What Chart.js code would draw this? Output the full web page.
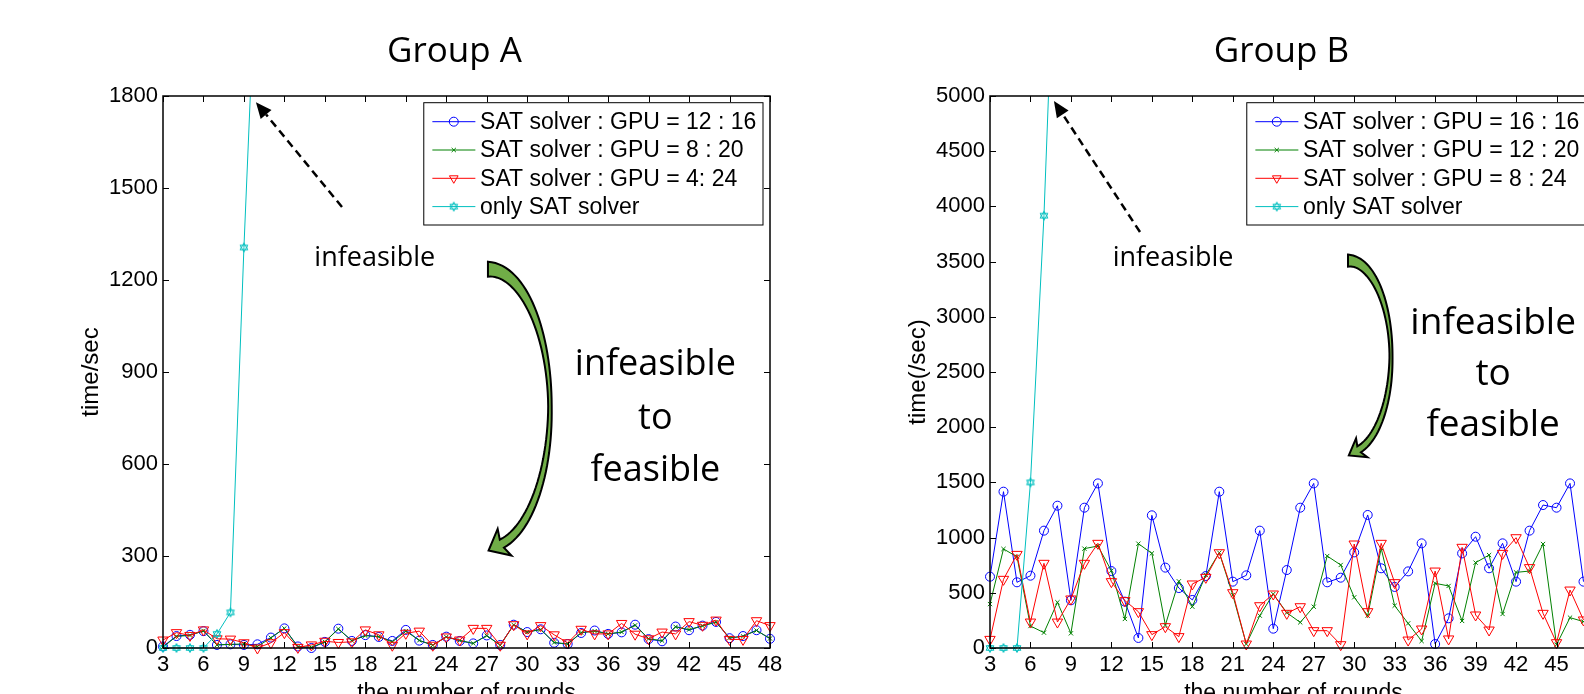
<!DOCTYPE html>
<html>
<head>
<meta charset="utf-8">
<script src="https://cdn.jsdelivr.net/npm/chart.js@4.4.1/dist/chart.umd.min.js"></script>
<style>
  html, body { margin: 0; padding: 0; background: #fff; overflow: hidden; }
  #wrap { position: relative; width: 1584px; height: 694px; overflow: hidden; }
  .box { position: absolute; top: 0; width: 800px; height: 694px; }
</style>
</head>
<body>
<div id="wrap">
  <div class="box" style="left:0"><canvas id="chartA"></canvas></div>
  <div class="box" style="left:840px"><canvas id="chartB"></canvas></div>
</div>
<script>
// rounds on the x axis
const rounds = [3,4,5,6,7,8,9,10,11,12,13,14,15,16,17,18,19,20,21,22,23,24,25,26,27,28,29,30,31,32,33,34,35,36,37,38,39,40,41,42,43,44,45,46,47,48];
const xTicksStep = 3;

// Group A
const labelsA = ['SAT solver : GPU = 12 : 16', 'SAT solver : GPU = 8 : 20', 'SAT solver : GPU = 4: 24', 'only SAT solver'];
const gpu12A = [5,39,43,55,10,12,10,12,34,64,5,0,20,63,23,42,36,23,59,24,10,37,23,15,41,10,76,52,61,17,13,49,57,46,51,76,29,22,70,58,73,85,32,39,58,30];
const gpu8A  = [3,38,41,56,10,12,13,5,33,64,4,2,20,62,24,40,37,20,55,25,9,36,25,15,40,9,75,52,60,18,13,50,55,46,52,74,30,24,69,60,72,84,33,38,57,31];
const gpu4A  = [26,50,41,59,30,29,17,0,17,50,2,10,22,18,20,59,43,9,48,55,9,36,26,64,64,9,76,46,73,43,17,61,46,46,80,45,30,52,46,86,74,91,28,28,89,73];
const onlyA  = [0,0,0,0,46,116,1306,2350];
const yMaxA = 1800, yStepA = 300;

// Group B
const labelsB = ['SAT solver : GPU = 16 : 16', 'SAT solver : GPU = 12 : 20', 'SAT solver : GPU = 8 : 24', 'only SAT solver'];
const gpu16B = [646,1416,595,655,1063,1289,432,1271,1491,697,420,91,1202,728,543,435,652,1416,601,658,1063,175,706,1271,1491,595,637,866,1205,722,553,694,948,36,269,857,1008,722,948,601,1063,1295,1271,1491,601];
const gpu12B = [398,897,827,199,139,414,133,900,924,700,263,945,857,208,604,374,661,863,480,36,293,489,320,232,374,833,752,459,293,903,383,223,63,586,562,245,773,842,308,685,697,942,30,275,239];
const gpu8B  = [78,622,848,235,767,235,444,767,948,601,429,329,121,193,103,580,640,863,501,36,383,489,314,374,157,157,30,942,329,948,592,72,172,697,82,912,299,163,857,999,728,314,48,525,254];
const onlyB  = [0,0,0,1500,3916,7150];
const yMaxB = 5000, yStepB = 500;

const SANS = '"Liberation Sans", Arial, sans-serif';
const CAL = '"Open Sans", sans-serif';

function hexagram(color, r) {
  const s = Math.ceil(r * 2 + 3);
  const c = document.createElement('canvas');
  c.width = c.height = s;
  const g = c.getContext('2d');
  g.strokeStyle = color;
  g.lineWidth = 1;
  for (let k = 0; k < 2; k++) {
    g.beginPath();
    for (let i = 0; i < 3; i++) {
      const a = -Math.PI / 2 + k * Math.PI + i * 2 * Math.PI / 3;
      const px = s / 2 + r * Math.cos(a), py = s / 2 + r * Math.sin(a);
      if (i) g.lineTo(px, py); else g.moveTo(px, py);
    }
    g.closePath();
    g.stroke();
  }
  return c;
}
const hexMark = hexagram('rgb(0,191,191)', 4.5);

function pts(vals) {
  return vals.map((v, i) => ({ x: rounds[i], y: v }));
}

function makeSets(labels, s1, s2, s3, s4) {
  return [
    { label: labels[0], data: pts(s1), borderColor: '#0000ff', pointBorderColor: '#0000ff',
      pointStyle: 'circle', pointRadius: 4.5, order: 4, clip: false },
    { label: labels[1], data: pts(s2), borderColor: '#008000', pointBorderColor: '#008000',
      pointStyle: 'crossRot', pointRadius: 3, order: 3, clip: false },
    { label: labels[2], data: pts(s3), borderColor: '#ff0000', pointBorderColor: '#ff0000',
      pointStyle: 'triangle', pointRotation: 180, pointRadius: 6, order: 2, clip: false },
    { label: labels[3], data: pts(s4), borderColor: 'rgb(0,191,191)', pointBorderColor: 'rgb(0,191,191)',
      pointStyle: hexMark, pointRadius: 4, order: 1, clip: { left: 10, top: 0, right: 10, bottom: 10 } }
  ];
}

function curvedArrow(ctx, cx, cy, rx, ry, s) {
  const a0 = -Math.PI / 2, a1 = s.a1 * Math.PI / 180;
  const outer = [], inner = [];
  const N = 60;
  const norm = a => {
    let nx = Math.cos(a) / rx, ny = Math.sin(a) / ry;
    const l = Math.hypot(nx, ny);
    return [nx / l, ny / l];
  };
  for (let i = 0; i <= N; i++) {
    const a = a0 + (a1 - a0) * i / N;
    const px = cx + rx * Math.cos(a), py = cy + ry * Math.sin(a);
    const [nx, ny] = norm(a);
    const w = a < 0
      ? s.wMid + (s.wTop - s.wMid) * Math.pow(-a / (Math.PI / 2), 1.6)
      : s.wMid + (s.wEnd - s.wMid) * (a / a1);
    outer.push([px + nx * w / 2, py + ny * w / 2]);
    inner.push([px - nx * w / 2, py - ny * w / 2]);
  }
  const ex = cx + rx * Math.cos(a1), ey = cy + ry * Math.sin(a1);
  let tx = -rx * Math.sin(a1), ty = ry * Math.cos(a1);
  const tl = Math.hypot(tx, ty); tx /= tl; ty /= tl;
  const [nx, ny] = norm(a1);
  ctx.beginPath();
  outer.forEach((p, i) => i ? ctx.lineTo(p[0], p[1]) : ctx.moveTo(p[0], p[1]));
  ctx.lineTo(ex + nx * s.headW / 2 - tx * 3, ey + ny * s.headW / 2 - ty * 3);
  ctx.lineTo(ex + tx * s.head, ey + ty * s.head);
  ctx.lineTo(ex - nx * s.headW / 2 - tx * 3, ey - ny * s.headW / 2 - ty * 3);
  for (let i = N; i >= 0; i--) ctx.lineTo(inner[i][0], inner[i][1]);
  ctx.closePath();
  ctx.fillStyle = '#70ad47';
  ctx.fill();
  ctx.lineWidth = 2;
  ctx.strokeStyle = '#000';
  ctx.lineJoin = 'miter';
  ctx.stroke();
}

// frame, ticks, titles, notes and legend drawn in MATLAB style
function makeDeco(cfg) {
  return {
    id: 'deco',
    afterDatasetsDraw(chart) {
      const ctx = chart.ctx, a = chart.chartArea;
      const xs = chart.scales.x, ys = chart.scales.y;
      const X = v => xs.getPixelForValue(v), Y = v => ys.getPixelForValue(v);
      ctx.save();

      // inward ticks on all four sides
      ctx.strokeStyle = '#000';
      ctx.lineWidth = 1;
      ctx.beginPath();
      xs.ticks.forEach(t => {
        const p = Math.round(X(t.value)) + 0.5;
        ctx.moveTo(p, a.bottom); ctx.lineTo(p, a.bottom - 6);
        ctx.moveTo(p, a.top); ctx.lineTo(p, a.top + 6);
      });
      ys.ticks.forEach(t => {
        const p = Math.round(Y(t.value)) + 0.5;
        ctx.moveTo(a.left, p); ctx.lineTo(a.left + 6, p);
        ctx.moveTo(a.right, p); ctx.lineTo(a.right - 6, p);
      });
      ctx.stroke();
      ctx.lineWidth = 1.5;
      ctx.strokeRect(a.left, a.top, a.right - a.left, a.bottom - a.top);

      // titles
      const mid = (a.left + a.right) / 2;
      ctx.fillStyle = '#000';
      ctx.textAlign = 'center';
      ctx.textBaseline = 'alphabetic';
      ctx.font = '35px ' + CAL;
      ctx.fillText(cfg.title, mid - 12, a.top - 34);
      ctx.font = '23px ' + SANS;
      ctx.fillText('the number of rounds', mid, a.bottom + 52);
      ctx.save();
      ctx.translate(a.left - 72, (a.top + a.bottom) / 2);
      ctx.rotate(-Math.PI / 2);
      ctx.textBaseline = 'middle';
      ctx.font = '24px ' + SANS;
      ctx.fillText(cfg.yTitle, 0, 0);
      ctx.restore();

      // dashed arrow to "infeasible"
      const d = cfg.dash;
      const x0 = X(d.from[0]), y0 = Y(d.from[1]), x1 = X(d.to[0]), y1 = Y(d.to[1]);
      const ang = Math.atan2(y1 - y0, x1 - x0);
      const hl = 16, hw = 7;
      const bx = x1 - hl * Math.cos(ang), by = y1 - hl * Math.sin(ang);
      ctx.setLineDash([8, 5]);
      ctx.lineWidth = 2.5;
      ctx.beginPath(); ctx.moveTo(x0, y0); ctx.lineTo(bx, by); ctx.stroke();
      ctx.setLineDash([]);
      ctx.beginPath();
      ctx.moveTo(x1, y1);
      ctx.lineTo(bx + hw * Math.sin(ang), by - hw * Math.cos(ang));
      ctx.lineTo(bx - hw * Math.sin(ang), by + hw * Math.cos(ang));
      ctx.closePath();
      ctx.fill();

      ctx.textBaseline = 'middle';
      ctx.font = '27px ' + CAL;
      ctx.fillText('infeasible', X(cfg.note[0]), Y(cfg.note[1]));

      ctx.font = cfg.bigSize + 'px ' + CAL;
      const bigLines = ['infeasible', 'to', 'feasible'];
      bigLines.forEach((s, i) => ctx.fillText(s, X(cfg.big[0]), Y(cfg.big[1][i])));

      const g = cfg.green;
      curvedArrow(ctx, X(g.c[0]), Y(g.c[1]), g.rx, g.ry, g);

      // legend
      ctx.font = '23px ' + SANS;
      const tw = Math.max(...chart.data.datasets.map(ds => ctx.measureText(ds.label).width));
      const lw = 8.6 + 43 + 4.7 + tw + 6.6;
      const lx = a.right - 7 - lw - cfg.legendShift, ly = a.top + 6.7, lh = 122.3;
      ctx.fillStyle = '#fff';
      ctx.fillRect(lx, ly, lw, lh);
      ctx.lineWidth = 1;
      ctx.strokeStyle = '#000';
      ctx.strokeRect(lx, ly, lw, lh);
      chart.data.datasets.forEach((ds, i) => {
        const ry = ly + 19 + i * 28.3;
        ctx.strokeStyle = ds.borderColor;
        ctx.lineWidth = 1;
        ctx.beginPath(); ctx.moveTo(lx + 8.6, ry); ctx.lineTo(lx + 51.6, ry); ctx.stroke();
        ctx.fillStyle = 'rgba(0,0,0,0)';
        Chart.helpers.drawPoint(ctx, {
          pointStyle: ds.pointStyle, rotation: ds.pointRotation || 0,
          radius: Math.min(ds.pointRadius, 5), borderWidth: 1
        }, lx + 30, ry);
        ctx.fillStyle = '#000';
        ctx.textAlign = 'left';
        ctx.textBaseline = 'middle';
        ctx.fillText(ds.label, lx + 56.3, ry + 1);
      });
      ctx.restore();
    }
  };
}

function makeChart(id, sets, yMax, yStep, axisW, padRight, cfg) {
  return new Chart(document.getElementById(id), {
    type: 'line',
    data: { datasets: sets },
    options: {
      responsive: true,
      maintainAspectRatio: false,
      animation: false,
      events: [],
      layout: { padding: { left: 0, top: 96, right: padRight, bottom: 0 } },
      elements: {
        line: { borderWidth: 1, tension: 0 },
        point: { borderWidth: 1, backgroundColor: 'rgba(0,0,0,0)' }
      },
      plugins: { legend: { display: false }, tooltip: { enabled: false }, title: { display: false } },
      scales: {
        x: {
          type: 'linear', min: rounds[0], max: rounds[rounds.length - 1],
          grid: { display: false, drawTicks: false }, border: { display: false },
          ticks: { stepSize: xTicksStep, padding: 4, color: '#000', font: { family: SANS, size: 22 },
                   maxRotation: 0, callback: v => String(v) },
          afterFit: s => { s.height = 46; }
        },
        y: {
          min: 0, max: yMax,
          grid: { display: false, drawTicks: false }, border: { display: false },
          ticks: { stepSize: yStep, padding: 5, color: '#000', font: { family: SANS, size: 22 },
                   callback: v => String(v) },
          afterFit: s => { s.width = axisW; }
        }
      }
    },
    plugins: [makeDeco(cfg)]
  });
}

makeChart('chartA', makeSets(labelsA, gpu12A, gpu8A, gpu4A, onlyA), yMaxA, yStepA, 163, 30, {
  title: 'Group A', yTitle: 'time/sec',
  dash: { from: [16.27, 1438], to: [9.89, 1780] },
  note: [18.7, 1271],
  big: [39.5, [924, 748, 578]], bigSize: 36,
  green: { c: [27.09, 782], rx: 62, ry: 139, a1: 77, wTop: 15, wMid: 3.5, wEnd: 9, head: 15, headW: 30 },
  legendShift: 0
});

makeChart('chartB', makeSets(labelsB, gpu16B, gpu12B, gpu8B, onlyB), yMaxB, yStepB, 150, 43, {
  title: 'Group B', yTitle: 'time(/sec)',
  dash: { from: [14.12, 3768], to: [7.74, 4955] },
  note: [16.57, 3530],
  big: [40.3, [2944, 2482, 2020]], bigSize: 37,
  green: { c: [29.54, 2640], rx: 43, ry: 96, a1: 75, wTop: 12, wMid: 3, wEnd: 7, head: 12, headW: 22 },
  legendShift: 4
});
</script>
</body>
</html>
